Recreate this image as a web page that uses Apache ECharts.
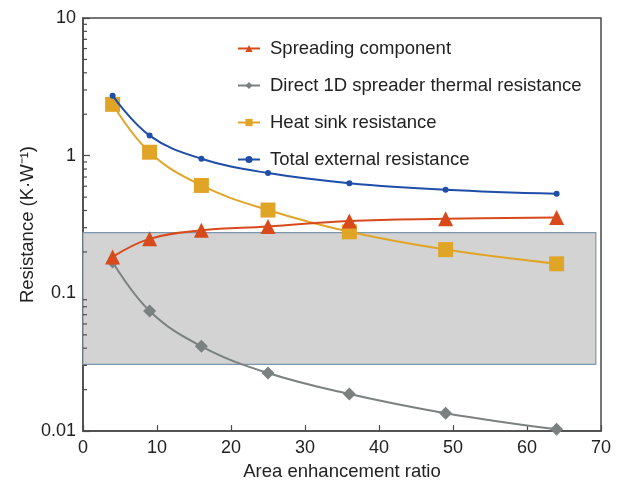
<!DOCTYPE html>
<html>
<head>
<meta charset="utf-8">
<script src="https://cdn.jsdelivr.net/npm/echarts@6/dist/echarts.min.js"></script>
<style>
  html, body { margin: 0; padding: 0; background: #fff; }
  #chart { width: 622px; height: 486px; }
</style>
</head>
<body>
<div id="chart"></div>
<script>
const areaRatio = [4, 9, 16, 25, 36, 49, 64]
const spreading = [0.184, 0.249, 0.287, 0.306, 0.336, 0.348, 0.356]
const direct1D = [0.169, 0.0746, 0.0413, 0.0264, 0.0186, 0.0135, 0.0103]
const heatSink = [2.36, 1.06, 0.608, 0.403, 0.280, 0.208, 0.164]
const totalExternal = [2.73, 1.40, 0.951, 0.748, 0.632, 0.566, 0.529]

const bandX = [0, 69.3]
const bandY = [0.0305, 0.276]

const yTickLabels = { 10: '10', 1: '1', 0.1: '0.1', 0.01: '0.01' }
const decades = [0.01, 0.1, 1]

const font = '"Liberation Sans", Arial, sans-serif'
const dark = '#4a4a4a'

// minor log ticks 2..9 per decade (axis furniture)
const minorTicks = []
decades.forEach((d) => {
  for (let m = 2; m <= 9; m++) minorTicks.push([0, +(d * m).toPrecision(3)])
})

const pairs = (ys) => areaRatio.map((x, i) => [x, ys[i]])

const chart = echarts.init(document.getElementById('chart'))
chart.setOption({
  animation: false,
  backgroundColor: '#fff',
  textStyle: { fontFamily: font },
  grid: {
    left: 83, right: 21, top: 18, bottom: 54,
    show: true, borderColor: dark, borderWidth: 1.5,
  },
  legend: {
    orient: 'vertical',
    left: 232,
    top: 34,
    itemWidth: 22,
    itemHeight: 9,
    itemGap: 18,
    textStyle: { fontSize: 18.5, color: '#222', fontFamily: font, padding: [0, 0, 0, 5] },
    data: ['Spreading component', 'Direct 1D spreader thermal resistance', 'Heat sink resistance', 'Total external resistance'],
  },
  xAxis: {
    type: 'value',
    min: 0,
    max: 70,
    interval: 10,
    name: 'Area enhancement ratio',
    nameLocation: 'middle',
    nameGap: 29,
    nameTextStyle: { fontSize: 18.5, color: '#222' },
    axisLine: { lineStyle: { color: dark, width: 1.5 } },
    axisTick: { inside: true, length: 6, lineStyle: { color: dark, width: 1.2 } },
    axisLabel: { fontSize: 18, color: '#222', margin: 8 },
    splitLine: { show: false },
  },
  yAxis: {
    type: 'log',
    logBase: 10,
    min: 0.01,
    max: 10,
    name: 'Resistance (K·W⁻¹)',
    nameLocation: 'middle',
    nameGap: 46,
    nameMoveOverlap: false,
    nameTextStyle: { fontSize: 18.5, color: '#222' },
    axisLine: { lineStyle: { color: dark, width: 1.5 } },
    axisTick: { inside: true, length: 7, lineStyle: { color: dark, width: 1.2 } },
    axisLabel: {
      fontSize: 18, color: '#222', margin: 7,
      formatter: (v) => yTickLabels[+v.toPrecision(3)] ?? '',
    },
    splitLine: { show: false },
  },
  series: [
    {
      name: 'band',
      type: 'line',
      data: [],
      silent: true,
      z: 1,
      markArea: {
        silent: true,
        itemStyle: { color: '#d3d3d3', borderColor: '#7d96b0', borderWidth: 1.2 },
        data: [[{ coord: [bandX[0], bandY[0]] }, { coord: [bandX[1], bandY[1]] }]],
      },
    },
    {
      name: 'minorTicks',
      type: 'custom',
      silent: true,
      z: 10,
      data: minorTicks,
      renderItem: (params, api) => {
        const p = api.coord([api.value(0), api.value(1)])
        return {
          type: 'line',
          shape: { x1: p[0], y1: p[1], x2: p[0] + 4, y2: p[1] },
          style: { stroke: dark, lineWidth: 1.2 },
        }
      },
    },
    {
      name: 'Direct 1D spreader thermal resistance',
      type: 'line',
      smooth: 0.4,
      data: pairs(direct1D),
      symbol: 'diamond',
      symbolSize: 13,
      color: '#7b8080',
      lineStyle: { width: 2, color: '#7b8080' },
      itemStyle: { color: '#7b8080' },
      z: 3,
    },
    {
      name: 'Heat sink resistance',
      type: 'line',
      smooth: 0.4,
      data: pairs(heatSink),
      symbol: 'rect',
      symbolSize: 15,
      color: '#e0a526',
      lineStyle: { width: 2, color: '#e0a526' },
      itemStyle: { color: '#e0a526' },
      z: 4,
    },
    {
      name: 'Spreading component',
      type: 'line',
      smooth: 0.4,
      data: pairs(spreading),
      symbol: 'triangle',
      symbolSize: 15,
      color: '#d84a1b',
      lineStyle: { width: 2, color: '#d84a1b' },
      itemStyle: { color: '#d84a1b' },
      z: 5,
    },
    {
      name: 'Total external resistance',
      type: 'line',
      smooth: 0.4,
      data: pairs(totalExternal),
      symbol: 'circle',
      symbolSize: 6,
      color: '#1f4ea8',
      lineStyle: { width: 2, color: '#1f4ea8' },
      itemStyle: { color: '#1f4ea8' },
      z: 6,
    },
  ],
})
</script>
</body>
</html>
